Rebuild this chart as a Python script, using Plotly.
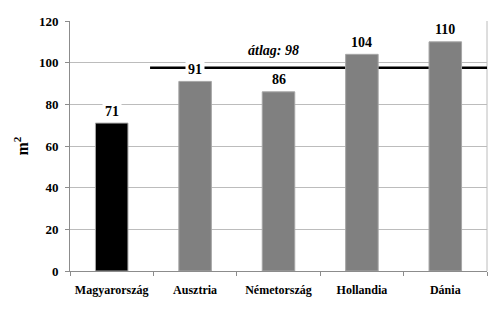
import plotly.graph_objects as go

categories = ["Magyarország", "Ausztria", "Németország", "Hollandia", "Dánia"]
values = [71, 91, 86, 104, 110]
bar_colors = ["#000000", "#808080", "#808080", "#808080", "#808080"]
avg_value = 97.6
avg_label = "átlag: 98"
y_title = "m<sup>2</sup>"

FONT = "Liberation Serif"

fig = go.Figure()
fig.add_trace(go.Bar(
    x=categories, y=values,
    marker=dict(color=bar_colors, line=dict(color="#a6a6a6", width=1)),
    width=0.39,
))

# average line
fig.add_shape(type="line", xref="x", yref="y",
              x0=0.46, x1=4.52, y0=avg_value, y1=avg_value,
              line=dict(color="black", width=2.5), layer="below")

annotations = []
for c, v in zip(categories, values):
    annotations.append(dict(
        x=c, y=v, xref="x", yref="y", text=f"<b>{v}</b>", showarrow=False,
        yanchor="middle", yshift=12, bgcolor="white", borderpad=2,
        font=dict(family=FONT, size=14, color="black"),
    ))
annotations.append(dict(
    x=1.94, y=avg_value, xref="x", yref="y", text=f"<b><i>{avg_label}</i></b>",
    showarrow=False, yanchor="middle", yshift=17,
    font=dict(family=FONT, size=14, color="black"),
))
fig.update_layout(annotations=annotations)

fig.update_layout(
    width=500, height=312,
    margin=dict(l=70, r=13, t=21, b=41),
    paper_bgcolor="white", plot_bgcolor="white",
    showlegend=False,
    font=dict(family=FONT, size=12, color="black"),
    bargap=0.6,
)
fig.update_yaxes(
    range=[0, 120], dtick=20, showgrid=True, gridcolor="#bcbcbc", gridwidth=1,
    showline=True, linecolor="#8c8c8c", linewidth=1,
    ticks="outside", ticklen=4, tickcolor="#8c8c8c", ticklabelstandoff=4,
    tickfont=dict(family=FONT, size=13, color="black", weight="bold"),
    title=dict(text=y_title, font=dict(family=FONT, size=16, color="black", weight="bold"), standoff=6),
    zeroline=False,
)
fig.update_xaxes(
    showline=True, linecolor="#8c8c8c", linewidth=1,
    ticks="outside", ticklen=4, tickcolor="#8c8c8c", tickson="boundaries",
    ticklabelstandoff=8,
    tickfont=dict(family=FONT, size=12, color="black", weight="bold"),
    showgrid=False,
    range=[-0.5, 4.5],
)
# right border of plot area
fig.add_shape(type="line", xref="paper", yref="paper", x0=1, x1=1, y0=0, y1=1,
              line=dict(color="#bcbcbc", width=1), layer="below")

fig.write_html("out.html")
